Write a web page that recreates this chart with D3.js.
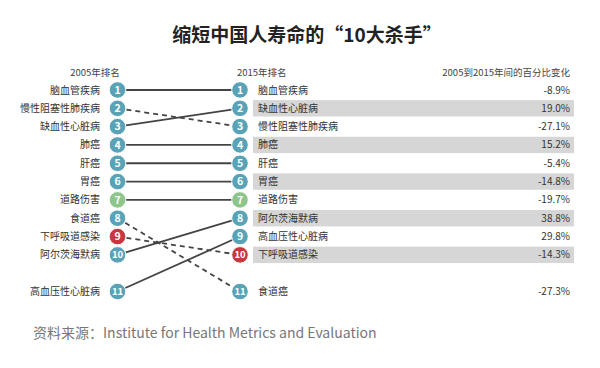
<!DOCTYPE html>
<html><head><meta charset="utf-8">
<script src="https://cdn.jsdelivr.net/npm/d3@7"></script>
<style>body{margin:0;background:#fff}svg{display:block}</style>
</head><body><svg id="c" width="600" height="368"></svg>
<script>
const title = "缩短中国人寿命的“10大杀手”";
const source = "资料来源：Institute for Health Metrics and Evaluation";
const headers = ["2005年排名", "2015年排名", "2005到2015年间的百分比变化"];
const diseases2005 = ["脑血管疾病","慢性阻塞性肺疾病","缺血性心脏病","肺癌","肝癌","胃癌","道路伤害","食道癌","下呼吸道感染","阿尔茨海默病","高血压性心脏病"];
const diseases2015 = ["脑血管疾病","缺血性心脏病","慢性阻塞性肺疾病","肺癌","肝癌","胃癌","道路伤害","阿尔茨海默病","高血压性心脏病","下呼吸道感染","食道癌"];
const change2015 = [-8.9, 19.0, -27.1, 15.2, -5.4, -14.8, -19.7, 38.8, 29.8, -14.3, -27.3];
const injury = ["道路伤害"];
const communicable = ["下呼吸道感染"];

const svg = d3.select("#c");
const font = "'Noto Sans CJK SC','Microsoft YaHei',sans-serif";
const slot = r => r <= 10 ? r : r + 1;
const y = d3.scaleLinear().domain([1, 12]).range([90, 291.5]);
const x = d3.scalePoint().domain(["2005","2015"]).range([117.5, 240]);
const color = name => communicable.includes(name) ? "#c9363e" : injury.includes(name) ? "#8dc58b" : "#5aa3b7";

svg.append("text").attr("x", 307).attr("y", 42).attr("text-anchor","middle")
  .attr("font-family", font).attr("font-weight","bold").attr("font-size", 19).attr("fill","#222").text(title);

svg.append("text").attr("x", 95).attr("y", 76).attr("text-anchor","middle").attr("font-family",font).attr("font-size",9.5).attr("fill","#444").text(headers[0]);
svg.append("text").attr("x", 237).attr("y", 76).attr("font-family",font).attr("font-size",9.5).attr("fill","#444").text(headers[1]);
svg.append("text").attr("x", 570).attr("y", 76).attr("text-anchor","end").attr("font-family",font).attr("font-size",9.5).attr("fill","#444").text(headers[2]);

// bands
svg.selectAll("rect.band").data(diseases2015.map((d,i)=>({d, r:i+1})).filter(o => o.r % 2 === 0))
  .enter().append("rect").attr("x", 253).attr("width", 321)
  .attr("y", o => y(slot(o.r)) - 8.2).attr("height", 16.4).attr("fill", "#d6d6d6");

// lines
const links = diseases2005.map((d, i) => ({d, r0: i + 1, r1: diseases2015.indexOf(d) + 1}));
svg.selectAll("line.link").data(links).enter().append("line")
  .attr("x1", x("2005")).attr("x2", x("2015"))
  .attr("y1", o => y(slot(o.r0))).attr("y2", o => y(slot(o.r1)))
  .attr("stroke", "#444").attr("stroke-width", 1.8)
  .attr("stroke-dasharray", o => o.r1 > o.r0 ? "5,4" : null);

function circles(list, key) {
  const g = svg.selectAll("g.c" + key).data(list.map((d,i)=>({d, r:i+1}))).enter().append("g")
    .attr("transform", o => `translate(${x(key)},${y(slot(o.r))})`);
  g.append("circle").attr("r", 8.3).attr("fill", o => color(o.d)).attr("stroke","#fff").attr("stroke-width",1);
  g.append("text").attr("text-anchor","middle").attr("dy","0.35em").attr("font-family",font)
    .attr("font-weight","bold").attr("font-size", o => o.r >= 10 ? 9.5 : 10.5).attr("fill","#fff").text(o => o.r);
}
circles(diseases2005, "2005");
circles(diseases2015, "2015");

svg.selectAll("text.l").data(diseases2005).enter().append("text")
  .attr("x", 100).attr("y", (d,i) => y(slot(i+1))).attr("dy","0.35em").attr("text-anchor","end")
  .attr("font-family",font).attr("font-size",10).attr("fill","#333").text(d => d);
svg.selectAll("text.r").data(diseases2015).enter().append("text")
  .attr("x", 258).attr("y", (d,i) => y(slot(i+1))).attr("dy","0.35em")
  .attr("font-family",font).attr("font-size",10).attr("fill","#333").text(d => d);
svg.selectAll("text.p").data(change2015).enter().append("text")
  .attr("x", 570).attr("y", (d,i) => y(slot(i+1))).attr("dy","0.35em").attr("text-anchor","end")
  .attr("font-family",font).attr("font-size",10).attr("fill","#333").text(d => d.toFixed(1) + "%");

svg.append("text").attr("x", 33).attr("y", 338).attr("font-family",font).attr("font-size",14).attr("fill","#777").text(source);
</script></body></html>
